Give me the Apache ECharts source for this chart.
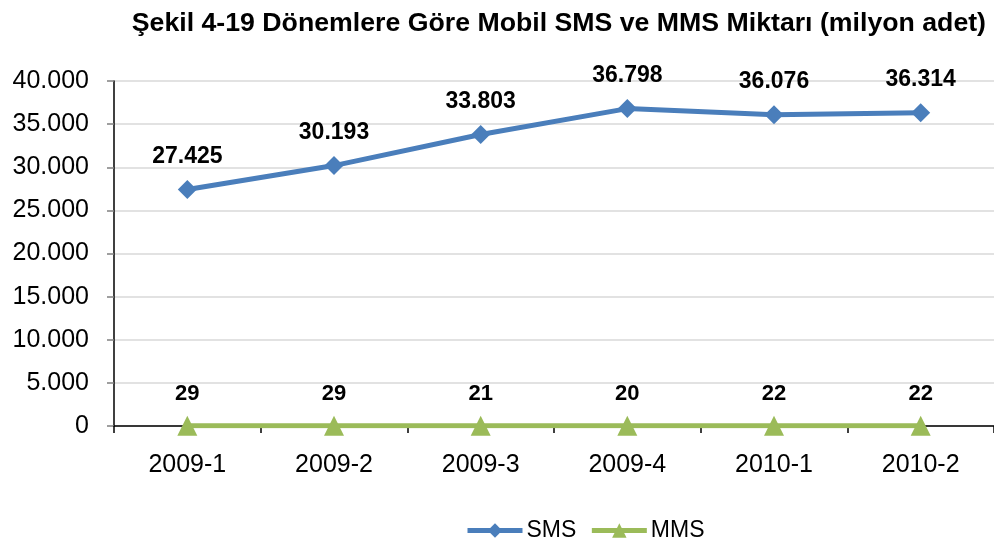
<!DOCTYPE html>
<html>
<head>
<meta charset="utf-8">
<script src="https://cdn.jsdelivr.net/npm/echarts@6/dist/echarts.min.js"></script>
<style>
html,body{margin:0;padding:0;background:#fff;}
#chart{width:994px;height:545px;}
</style>
</head>
<body>
<div id="chart"></div>
<script>
// Periods and message volumes (million units)
const periods = ['2009-1', '2009-2', '2009-3', '2009-4', '2010-1', '2010-2'];
const smsValues = [27425, 30193, 33803, 36798, 36076, 36314];
const mmsValues = [29, 29, 21, 20, 22, 22];
const yTicks = [0, 5000, 10000, 15000, 20000, 25000, 30000, 35000, 40000];

const fmt = v => String(v).replace(/\B(?=(\d{3})+(?!\d))/g, '.');

const chart = echarts.init(document.getElementById('chart'));
chart.setOption({
  animation: false,
  backgroundColor: '#fff',
  textStyle: { fontFamily: 'Liberation Sans, Arial, sans-serif' },
  title: {
    text: 'Şekil 4-19 Dönemlere Göre Mobil SMS ve MMS Miktarı (milyon adet)',
    right: 3,
    top: 5,
    textStyle: {
      fontFamily: 'Liberation Sans, Arial, sans-serif',
      fontWeight: 'bold',
      fontSize: 26.7,
      color: '#000'
    }
  },
  grid: { left: 114, top: 81, width: 883, height: 345 },
  xAxis: {
    type: 'category',
    data: periods,
    boundaryGap: true,
    axisLine: { lineStyle: { color: '#000', width: 1.5 } },
    axisTick: { show: true, length: 7, lineStyle: { color: '#000', width: 1.5 } },
    axisLabel: { color: '#000', fontSize: 25, margin: 27 }
  },
  yAxis: {
    type: 'value',
    min: yTicks[0],
    max: yTicks[yTicks.length - 1],
    interval: 5000,
    axisLine: { show: true, lineStyle: { color: '#000', width: 1.5 } },
    axisTick: { show: true, length: 7, lineStyle: { color: '#808080', width: 1.5 } },
    splitLine: { lineStyle: { color: '#d9d9d9', width: 1.5 } },
    axisLabel: { color: '#000', fontSize: 25, margin: 25, formatter: v => fmt(v) }
  },
  legend: {
    top: 514,
    left: 460,
    itemWidth: 55,
    itemHeight: 18,
    itemGap: 13,
    lineStyle: { width: 5 },
    textStyle: { color: '#000', fontSize: 23, padding: [0, 0, 0, -1] },
    data: ['SMS', 'MMS']
  },
  series: [
    {
      name: 'SMS',
      type: 'line',
      data: smsValues,
      symbol: 'diamond',
      symbolSize: 19,
      color: '#4a7ebb',
      lineStyle: { width: 5, color: '#4a7ebb' },
      itemStyle: { color: '#4a7ebb' },
      label: {
        show: true,
        position: 'top',
        distance: 12,
        color: '#000',
        fontWeight: 'bold',
        fontSize: 23,
        formatter: p => fmt(p.value)
      }
    },
    {
      name: 'MMS',
      type: 'line',
      data: mmsValues,
      symbol: 'triangle',
      symbolSize: 20,
      color: '#9bbb59',
      lineStyle: { width: 5, color: '#9bbb59' },
      itemStyle: { color: '#9bbb59' },
      label: {
        show: true,
        position: 'top',
        distance: 11,
        color: '#000',
        fontWeight: 'bold',
        fontSize: 22,
        formatter: p => fmt(p.value)
      }
    }
  ]
});
</script>
</body>
</html>
